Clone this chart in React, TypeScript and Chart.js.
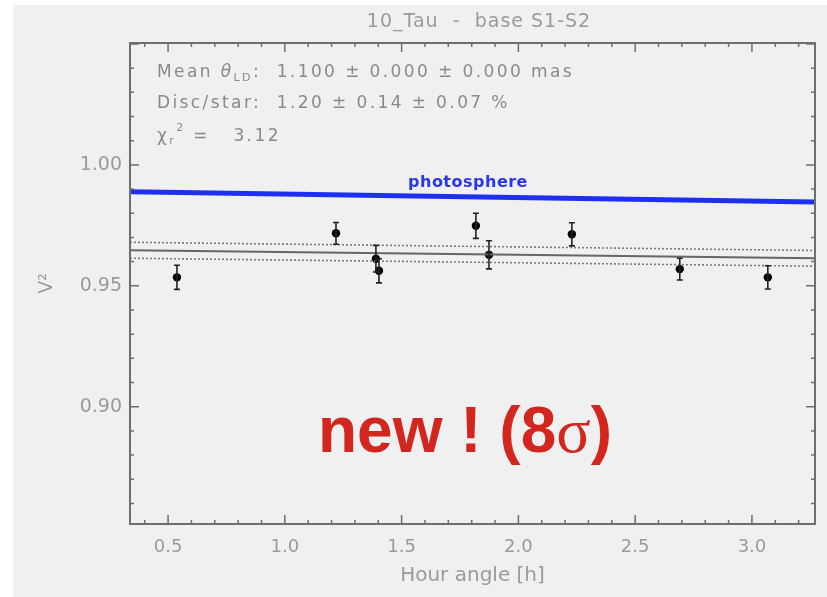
import React, { useEffect, useRef } from "react";
import { Chart, registerables } from "chart.js";
Chart.register(...registerables);

// ---- data ----
const hourAngle = [0.538, 1.219, 1.39, 1.403, 1.818, 1.874, 2.229, 2.691, 3.068];
const v2 = [0.9535, 0.9717, 0.9612, 0.9562, 0.9748, 0.9628, 0.9713, 0.9569, 0.9535];
const v2Err = [0.005, 0.0045, 0.0055, 0.005, 0.0052, 0.0058, 0.0048, 0.0045, 0.0048];
const xRange = [0.337, 3.27];
const yRange = [0.8515, 1.0504];
const photosphereLine = [0.9889, 0.9846];
const modelLine = [0.9647, 0.9614];
const modelUpper = [0.968, 0.9646];
const modelLower = [0.9614, 0.9581];
const xTickLabels = [0.5, 1.0, 1.5, 2.0, 2.5, 3.0];
const yTickLabels = [0.9, 0.95, 1.0];
const xMinorStep = 0.1;
const yMinorStep = 0.01;

const titleText = "10_Tau  -  base S1-S2";
const annotationDisc = "Disc/star:  1.20 \u00b1 0.14 \u00b1 0.07 %";

const FRAME = "#6e6e6e";
const TXT = "#9a9a9a";
const ANN = "#8a8a8a";
const FONT = "'DejaVu Sans', sans-serif";

type Part = { t: string; font: string; dy?: number };
function drawRich(ctx: CanvasRenderingContext2D, x: number, y: number, parts: Part[]) {
  for (const p of parts) {
    ctx.font = p.font;
    ctx.fillText(p.t, x, y + (p.dy || 0));
    x += ctx.measureText(p.t).width;
  }
  return x;
}

function setSpacing(ctx: any, s: string) {
  if ("letterSpacing" in ctx) ctx.letterSpacing = s;
}

const decorPlugin = {
  id: "decor",
  beforeDraw(chart: any) {
    const ctx = chart.ctx as CanvasRenderingContext2D;
    ctx.save();
    ctx.fillStyle = "#f0f0f0";
    ctx.fillRect(13, 5, chart.width - 13, chart.height - 5);
    ctx.restore();
  },
  afterDatasetsDraw(chart: any) {
    const ctx = chart.ctx as CanvasRenderingContext2D;
    const xs = chart.scales.x;
    const ys = chart.scales.y;
    const a = chart.chartArea;
    ctx.save();
    // error bars
    ctx.strokeStyle = "#222";
    ctx.lineWidth = 1.6;
    for (let i = 0; i < hourAngle.length; i++) {
      const px = xs.getPixelForValue(hourAngle[i]);
      const y1 = ys.getPixelForValue(v2[i] + v2Err[i]);
      const y2 = ys.getPixelForValue(v2[i] - v2Err[i]);
      ctx.beginPath();
      ctx.moveTo(px, y1);
      ctx.lineTo(px, y2);
      ctx.moveTo(px - 3, y1);
      ctx.lineTo(px + 3, y1);
      ctx.moveTo(px - 3, y2);
      ctx.lineTo(px + 3, y2);
      ctx.stroke();
    }
    // frame
    ctx.strokeStyle = FRAME;
    ctx.lineWidth = 2;
    ctx.strokeRect(a.left, a.top, a.right - a.left, a.bottom - a.top);
    // ticks (inward, all sides)
    ctx.lineWidth = 1.5;
    ctx.beginPath();
    const x0 = Math.ceil(xRange[0] / xMinorStep);
    const x1 = Math.floor(xRange[1] / xMinorStep);
    for (let k = x0; k <= x1; k++) {
      const v = k * xMinorStep;
      const major = k % 5 === 0;
      const len = major ? 9 : 4;
      const px = xs.getPixelForValue(v);
      ctx.moveTo(px, a.bottom);
      ctx.lineTo(px, a.bottom - len);
      ctx.moveTo(px, a.top);
      ctx.lineTo(px, a.top + len);
    }
    const y0 = Math.ceil(yRange[0] / yMinorStep);
    const y1 = Math.floor(yRange[1] / yMinorStep);
    for (let k = y0; k <= y1; k++) {
      const v = k * yMinorStep;
      const major = k % 5 === 0;
      const len = major ? 9 : 4;
      const py = ys.getPixelForValue(v);
      ctx.moveTo(a.left, py);
      ctx.lineTo(a.left + len, py);
      ctx.moveTo(a.right, py);
      ctx.lineTo(a.right - len, py);
    }
    ctx.stroke();

    // title
    ctx.fillStyle = TXT;
    ctx.textAlign = "center";
    ctx.textBaseline = "alphabetic";
    setSpacing(ctx, "1px");
    ctx.font = `19px ${FONT}`;
    ctx.fillText(titleText, 479, 27);

    // annotation block
    ctx.textAlign = "left";
    ctx.fillStyle = ANN;
    setSpacing(ctx, "2.4px");
    const f = `17px ${FONT}`;
    const fs = `11px ${FONT}`;
    drawRich(ctx, 157, 77, [
      { t: "Mean ", font: f },
      { t: "\u03b8", font: `italic 17px ${FONT}` },
      { t: "LD", font: fs, dy: 4 },
      { t: ":  1.100 \u00b1 0.000 \u00b1 0.000 mas", font: f },
    ]);
    ctx.font = f;
    ctx.fillText(annotationDisc, 157, 108);
    drawRich(ctx, 157, 141, [
      { t: "\u03c7", font: f },
      { t: "r", font: fs, dy: 3 },
      { t: "2", font: fs, dy: -10 },
      { t: " =   3.12", font: f },
    ]);

    // photosphere label
    setSpacing(ctx, "0.5px");
    ctx.fillStyle = "#2a35f0";
    ctx.textAlign = "center";
    ctx.font = `bold 16px ${FONT}`;
    ctx.fillText("photosphere", 468, 187);

    // red note
    setSpacing(ctx, "0px");
    ctx.textAlign = "left";
    ctx.fillStyle = "#d3261f";
    drawRich(ctx, 318, 452, [
      { t: "new ! (8", font: `bold 64px 'Liberation Sans', Arial, sans-serif` },
      { t: "\u03c3", font: `64px 'Liberation Serif', serif` },
      { t: ")", font: `bold 64px 'Liberation Sans', Arial, sans-serif` },
    ]);
    ctx.restore();
  },
};

export default function App() {
  const ref = useRef<HTMLCanvasElement | null>(null);
  useEffect(() => {
    if (!ref.current) return;
    const lineDs = (vals: number[], color: string, width: number, dash: number[] = []) => ({
      type: "line" as const,
      data: [
        { x: xRange[0], y: vals[0] },
        { x: xRange[1], y: vals[1] },
      ],
      borderColor: color,
      borderWidth: width,
      borderDash: dash,
      pointRadius: 0,
      showLine: true,
      fill: false,
    });
    const chart = new Chart(ref.current, {
      type: "scatter",
      data: {
        datasets: [
          lineDs(photosphereLine, "#1f2ff2", 5),
          lineDs(modelUpper, "#7a7a7a", 1.6, [2, 2]),
          lineDs(modelLower, "#7a7a7a", 1.6, [2, 2]),
          lineDs(modelLine, "#666", 2),
          {
            type: "scatter" as const,
            data: hourAngle.map((h, i) => ({ x: h, y: v2[i] })),
            backgroundColor: "#000",
            borderColor: "#000",
            borderWidth: 0,
            pointRadius: 4.2,
            pointStyle: "circle",
          },
        ] as any,
      },
      options: {
        responsive: false,
        animation: false,
        devicePixelRatio: 1,
        layout: { padding: { left: 13, right: 12, top: 43, bottom: 0 } },
        plugins: { legend: { display: false }, tooltip: { enabled: false }, title: { display: false } },
        scales: {
          x: {
            type: "linear",
            min: xRange[0],
            max: xRange[1],
            afterBuildTicks: (s: any) => {
              s.ticks = xTickLabels.map((v) => ({ value: v }));
            },
            afterFit: (s: any) => {
              s.height = 73;
            },
            ticks: {
              color: TXT,
              font: { family: FONT, size: 18 },
              padding: 13,
              maxRotation: 0,
              autoSkip: false,
              callback: (v: any) => Number(v).toFixed(1),
            },
            grid: { display: false, drawTicks: false },
            border: { display: false },
            title: {
              display: true,
              text: "Hour angle [h]",
              color: TXT,
              font: { family: FONT, size: 20 },
              padding: { top: 9, bottom: 9 },
            },
          },
          y: {
            type: "linear",
            min: yRange[0],
            max: yRange[1],
            afterBuildTicks: (s: any) => {
              s.ticks = yTickLabels.map((v) => ({ value: v }));
            },
            afterFit: (s: any) => {
              s.width = 117;
            },
            ticks: {
              color: TXT,
              font: { family: FONT, size: 19 },
              padding: 8,
              autoSkip: false,
              callback: (v: any) => Number(v).toFixed(2),
            },
            grid: { display: false, drawTicks: false },
            border: { display: false },
            title: {
              display: true,
              text: "V\u00b2",
              color: TXT,
              font: { family: FONT, size: 19 },
              padding: { top: 23, bottom: 23 },
            },
          },
        },
      } as any,
      plugins: [decorPlugin],
    });
    return () => chart.destroy();
  }, []);
  return (
    <div style={{ position: "absolute", left: 0, top: 0, width: 827, height: 597 }}>
      <canvas ref={ref} width={827} height={597} style={{ display: "block" }} />
    </div>
  );
}
